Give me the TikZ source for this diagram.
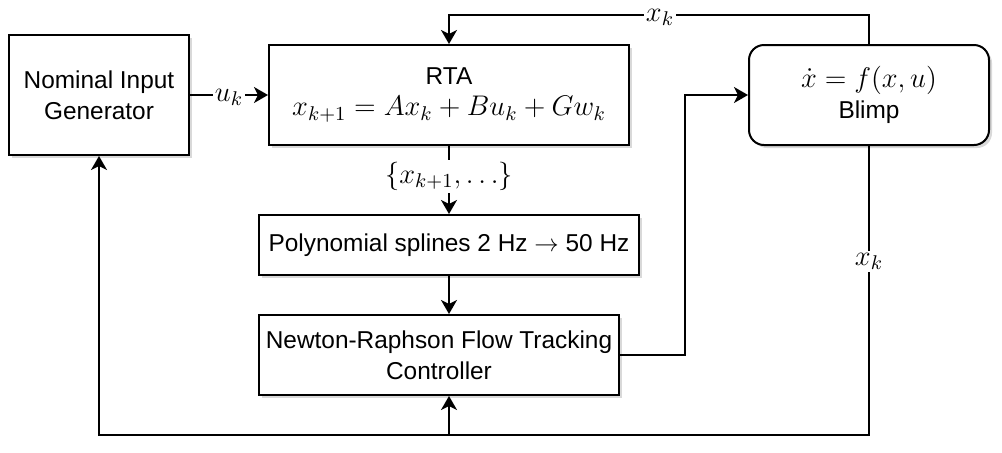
\RequirePackage{fix-cm}
\documentclass[tikz,border=0pt]{standalone}
\usepackage{fontspec}
\setmainfont{Liberation Sans}
\usetikzlibrary{arrows.meta,shadows}
\newcommand{\mathbig}[1]{{\fontsize{14.2}{15.5}\selectfont$#1$}}
\begin{document}
\begin{tikzpicture}[x=0.5pt,y=-0.5pt,line width=1pt,font=\fontsize{12.2}{15.5}\selectfont,
    block/.style={draw,fill=white,align=center,inner sep=2pt,
      drop shadow={opacity=0.3,shadow xshift=1.5pt,shadow yshift=-1.5pt}},
    lbl/.style={fill=white,inner sep=1pt},
    hlbl/.style={lbl,text depth=0pt},
    >={Stealth[length=7pt,width=8pt,inset=2pt]}]
  \useasboundingbox (0,0) rectangle (1002,452);
  % blocks
  \node[block,minimum width=90pt,minimum height=60pt] (gen) at (99,95) {Nominal Input\\Generator};
  \node[block,minimum width=180pt,minimum height=50pt] (rta) at (449,95) {RTA\\\mathbig{x_{k+1}=Ax_k+Bu_k+Gw_k}};
  \node[block,rounded corners=7.5pt,minimum width=120pt,minimum height=50pt] (blimp) at (869,95) {\mathbig{\dot{x}=f(x,u)}\\Blimp};
  \node[block,minimum width=190pt,minimum height=30pt] (spl) at (449,245) {Polynomial splines 2 Hz $\rightarrow$ 50 Hz};
  \node[block,minimum width=180pt,minimum height=40pt] (nr) at (439,355) {Newton-Raphson Flow Tracking\\Controller};
  \coordinate (xtop) at (449,15);
  \coordinate (bot) at (449,435);
  % connectors
  \draw[->] (gen.east) -- node[hlbl] (uk) {\mathbig{u_k}} (rta.west);
  \draw[->] (blimp.north) |- (xtop) -- (rta.north);
  \node[hlbl] (xk1) at (660,15) {\mathbig{x_k}};
  \draw[->] (rta.south) -- node[lbl,pos=0.45] (xseq) {\mathbig{\{x_{k+1},\dots\}}} (spl.north);
  \draw[->] (spl.south) -- (spl.south |- nr.north);
  \draw[->] (nr.east) -- ++(65,0) |- (blimp.west);
  \draw[->] (blimp.south) |- node[lbl,pos=0.2] (xk2) {\mathbig{x_k}} (gen.south |- bot) -- (gen.south);
  \draw[->] (bot) -- (nr.south -| bot);
\end{tikzpicture}
\end{document}
